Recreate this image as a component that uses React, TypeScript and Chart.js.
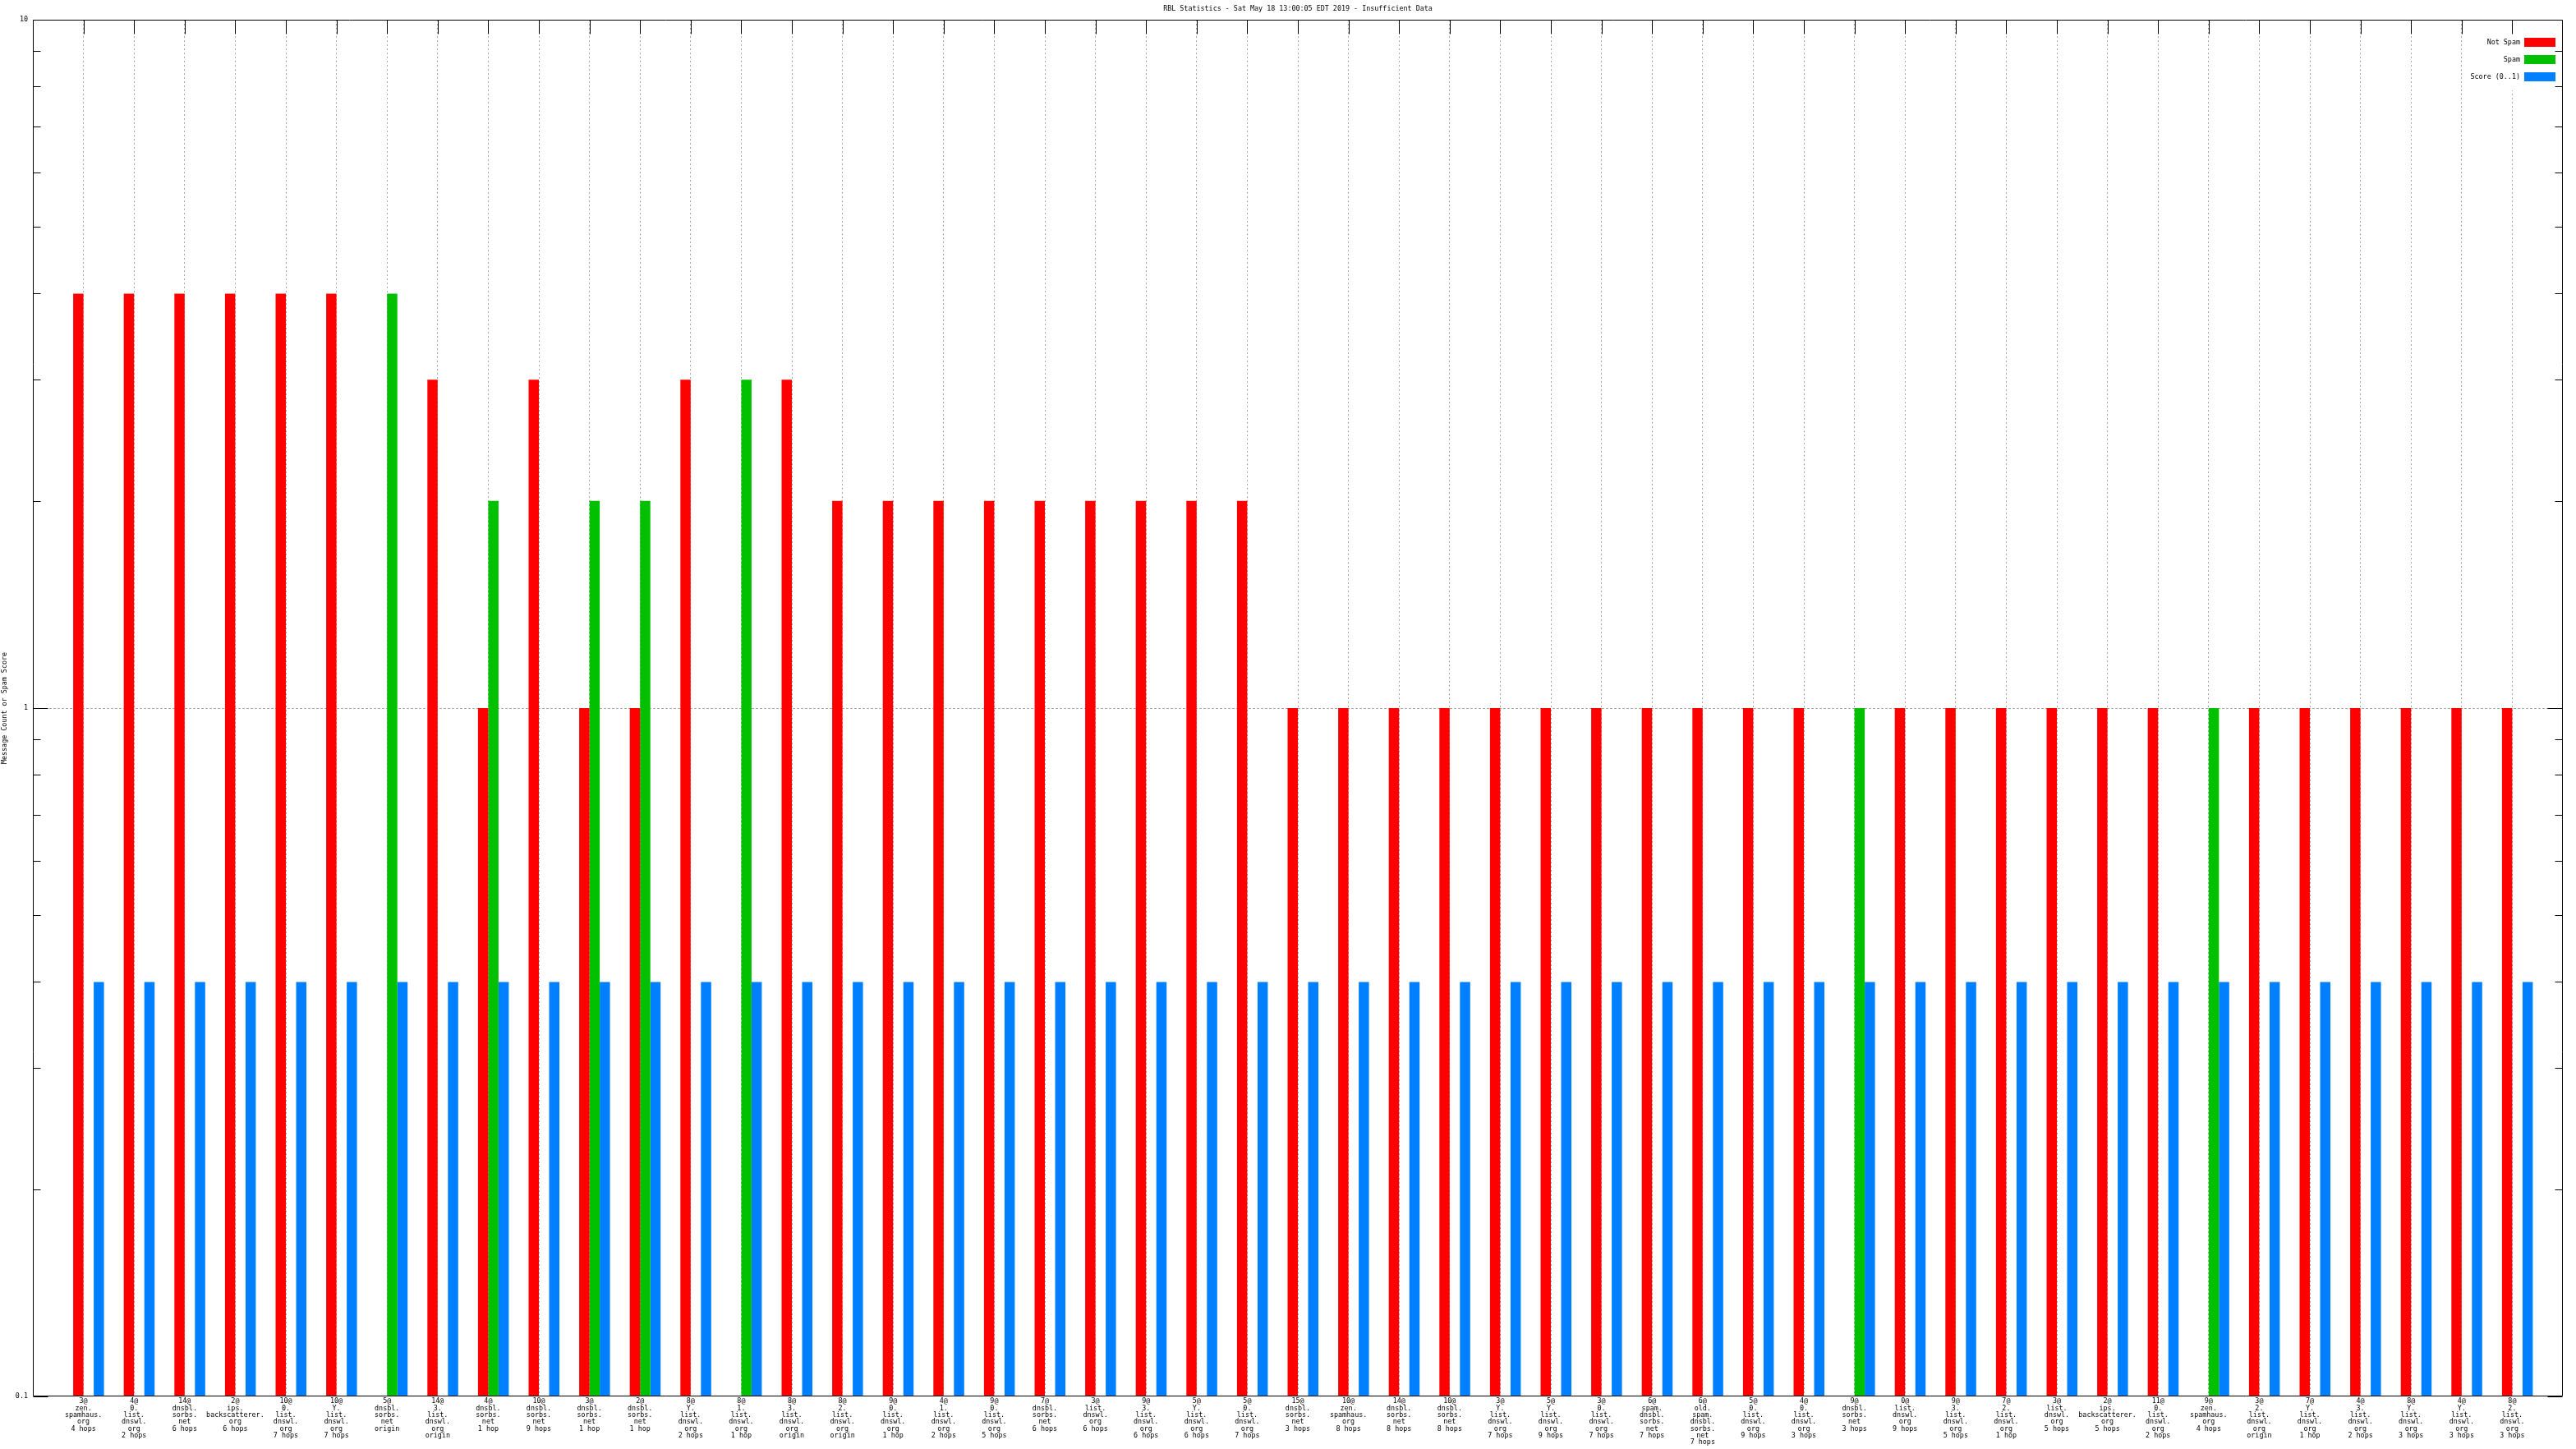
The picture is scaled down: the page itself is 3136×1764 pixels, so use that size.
import React, { useEffect, useRef } from 'react';
import { Chart, registerables } from 'chart.js';

Chart.register(...registerables);

const TITLE = 'RBL Statistics - Sat May 18 13:00:05 EDT 2019 - Insufficient Data';
const Y_TITLE = 'Message Count or Spam Score';
const FONT = "'DejaVu Sans Mono', 'Liberation Mono', monospace";
const FS = 8.4;

const seriesNames = ['Not Spam', 'Spam', 'Score (0..1)'];
const seriesColors = ['#ff0000', '#00c000', '#0080ff'];

const groupLabels = [
  '3@|zen.|spamhaus.|org|4 hops',
  '4@|0.|list.|dnswl.|org|2 hops',
  '14@|dnsbl.|sorbs.|net|6 hops',
  '2@|ips.|backscatterer.|org|6 hops',
  '10@|0.|list.|dnswl.|org|7 hops',
  '10@|Y.|list.|dnswl.|org|7 hops',
  '5@|dnsbl.|sorbs.|net|origin',
  '14@|3.|list.|dnswl.|org|origin',
  '4@|dnsbl.|sorbs.|net|1 hop',
  '10@|dnsbl.|sorbs.|net|9 hops',
  '3@|dnsbl.|sorbs.|net|1 hop',
  '2@|dnsbl.|sorbs.|net|1 hop',
  '8@|Y.|list.|dnswl.|org|2 hops',
  '8@|1.|list.|dnswl.|org|1 hop',
  '8@|3.|list.|dnswl.|org|origin',
  '8@|2.|list.|dnswl.|org|origin',
  '9@|0.|list.|dnswl.|org|1 hop',
  '4@|1.|list.|dnswl.|org|2 hops',
  '9@|0.|list.|dnswl.|org|5 hops',
  '7@|dnsbl.|sorbs.|net|6 hops',
  '3@|list.|dnswl.|org|6 hops',
  '9@|3.|list.|dnswl.|org|6 hops',
  '5@|Y.|list.|dnswl.|org|6 hops',
  '5@|0.|list.|dnswl.|org|7 hops',
  '15@|dnsbl.|sorbs.|net|3 hops',
  '10@|zen.|spamhaus.|org|8 hops',
  '14@|dnsbl.|sorbs.|net|8 hops',
  '10@|dnsbl.|sorbs.|net|8 hops',
  '3@|Y.|list.|dnswl.|org|7 hops',
  '5@|Y.|list.|dnswl.|org|9 hops',
  '3@|0.|list.|dnswl.|org|7 hops',
  '6@|spam.|dnsbl.|sorbs.|net|7 hops',
  '6@|old.|spam.|dnsbl.|sorbs.|net|7 hops',
  '5@|0.|list.|dnswl.|org|9 hops',
  '4@|0.|list.|dnswl.|org|3 hops',
  '9@|dnsbl.|sorbs.|net|3 hops',
  '0@|list.|dnswl.|org|9 hops',
  '9@|3.|list.|dnswl.|org|5 hops',
  '7@|2.|list.|dnswl.|org|1 hop',
  '3@|list.|dnswl.|org|5 hops',
  '2@|ips.|backscatterer.|org|5 hops',
  '11@|0.|list.|dnswl.|org|2 hops',
  '9@|zen.|spamhaus.|org|4 hops',
  '3@|2.|list.|dnswl.|org|origin',
  '7@|Y.|list.|dnswl.|org|1 hop',
  '4@|3.|list.|dnswl.|org|2 hops',
  '8@|Y.|list.|dnswl.|org|3 hops',
  '4@|Y.|list.|dnswl.|org|3 hops',
  '8@|2.|list.|dnswl.|org|3 hops',
];

const notSpam = [
  4, 4, 4, 4, 4, 4, null, 3, 1, 3,
  1, 1, 3, null, 3, 2, 2, 2, 2, 2,
  2, 2, 2, 2, 1, 1, 1, 1, 1, 1,
  1, 1, 1, 1, 1, null, 1, 1, 1, 1,
  1, 1, null, 1, 1, 1, 1, 1, 1,
];

const spam = [
  null, null, null, null, null, null, 4, null, 2, null,
  2, 2, null, 3, null, null, null, null, null, null,
  null, null, null, null, null, null, null, null, null, null,
  null, null, null, null, null, 1, null, null, null, null,
  null, null, 1, null, null, null, null, null, null,
];

const score = [
  0.4, 0.4, 0.4, 0.4, 0.4, 0.4, 0.4, 0.4, 0.4, 0.4,
  0.4, 0.4, 0.4, 0.4, 0.4, 0.4, 0.4, 0.4, 0.4, 0.4,
  0.4, 0.4, 0.4, 0.4, 0.4, 0.4, 0.4, 0.4, 0.4, 0.4,
  0.4, 0.4, 0.4, 0.4, 0.4, 0.4, 0.4, 0.4, 0.4, 0.4,
  0.4, 0.4, 0.4, 0.4, 0.4, 0.4, 0.4, 0.4, 0.4,
];

const yMajorValues = [0.1, 1, 10];
const yMajorLabels = ['0.1', '1', '10'];
const yMinorValues = [0.2, 0.3, 0.4, 0.5, 0.6, 0.7, 0.8, 0.9, 2, 3, 4, 5, 6, 7, 8, 9];

const near = (a: number, b: number) => Math.abs(a - b) < 1e-9;

const legendPlugin = {
  id: 'gnuLegend',
  afterDraw(chart: any) {
    const { ctx, chartArea: a } = chart;
    const rows = chart.data.datasets.filter((d: any) => d.label);
    ctx.save();
    ctx.fillStyle = '#ffffff';
    ctx.fillRect(a.right - 117, a.top + 18, 112, 68);
    ctx.font = `${FS}px ${FONT}`;
    ctx.textAlign = 'right';
    ctx.textBaseline = 'middle';
    rows.forEach((d: any, i: number) => {
      const cy = a.top + 27.5 + i * 21;
      ctx.fillStyle = '#000';
      ctx.fillText(d.label, a.right - 52, cy);
      ctx.fillStyle = d.backgroundColor;
      ctx.fillRect(a.right - 47, cy - 5.5, 38, 11);
    });
    ctx.restore();
  },
};

const framePlugin = {
  id: 'gnuFrame',
  afterDraw(chart: any) {
    const { ctx, chartArea: a, scales } = chart;
    const xs = scales.x;
    const ys = scales.y;
    const L = a.left + 0.5;
    const R = a.right - 0.5;
    const T = a.top + 0.5;
    const B = a.bottom - 0.5;
    ctx.save();
    ctx.strokeStyle = '#000';
    ctx.lineWidth = 1;
    ctx.setLineDash([]);
    ctx.beginPath();
    ctx.rect(L, T, R - L, B - T);
    for (let i = 1; i <= groupLabels.length; i++) {
      const px = Math.round(xs.getPixelForValue(i)) + 0.5;
      ctx.moveTo(px, T);
      ctx.lineTo(px, T + 17);
    }
    const yTicks = [
      ...yMajorValues.map((v) => ({ v, len: 18 })),
      ...yMinorValues.map((v) => ({ v, len: 9 })),
    ];
    yTicks.forEach(({ v, len }) => {
      const py = Math.round(ys.getPixelForValue(v)) + 0.5;
      ctx.moveTo(L, py);
      ctx.lineTo(L + len, py);
      ctx.moveTo(R, py);
      ctx.lineTo(R - len, py);
    });
    ctx.stroke();
    ctx.restore();
  },
};

export default function App() {
  const canvasRef = useRef<HTMLCanvasElement | null>(null);

  useEffect(() => {
    const canvas = canvasRef.current;
    if (!canvas) return;
    const pad = (arr: (number | null)[]) => [null, ...arr, null];
    const labels = ['', ...groupLabels.map((s) => s.split('|')), ''];
    const lastIndex = labels.length - 1;

    const chart = new Chart(canvas, {
      type: 'bar',
      data: {
        labels,
        datasets: [
          { label: '', data: pad(groupLabels.map(() => null)), backgroundColor: 'rgba(0,0,0,0)' },
          { label: seriesNames[0], data: pad(notSpam), backgroundColor: seriesColors[0] },
          { label: seriesNames[1], data: pad(spam), backgroundColor: seriesColors[1] },
          { label: seriesNames[2], data: pad(score), backgroundColor: seriesColors[2] },
        ] as any,
      },
      options: {
        animation: false,
        responsive: false,
        devicePixelRatio: 1,
        events: [],
        datasets: {
          bar: {
            categoryPercentage: 50 / 61.6,
            barPercentage: 1,
            borderWidth: 0,
          },
        } as any,
        layout: { padding: { left: 0, right: 16, top: 0, bottom: 0 } },
        plugins: {
          legend: { display: false },
          tooltip: { enabled: false },
          title: {
            display: true,
            text: TITLE,
            color: '#000',
            fullSize: false,
            font: { family: FONT, size: FS, lineHeight: 1, weight: 'normal' },
            padding: { top: 6.8, bottom: 8.8 },
          },
        },
        scales: {
          x: {
            type: 'category',
            offset: false,
            grid: {
              offset: false,
              drawTicks: false,
              lineWidth: 1,
              color: (c: any) => (c.index > 0 && c.index < lastIndex ? '#a8a8a8' : 'rgba(0,0,0,0)'),
            },
            border: { display: false, dash: [2, 3] },
            ticks: {
              autoSkip: false,
              maxRotation: 0,
              minRotation: 0,
              padding: 2,
              color: '#000',
              font: { family: FONT, size: FS, lineHeight: 8.33 / FS },
            },
            afterFit: (s: any) => {
              s.height = 64;
            },
          } as any,
          y: {
            type: 'logarithmic',
            min: 0.1,
            max: 10,
            afterBuildTicks: (s: any) => {
              s.ticks = [...yMajorValues, ...yMinorValues]
                .sort((p, q) => p - q)
                .map((v) => ({ value: v }));
            },
            grid: {
              drawTicks: false,
              lineWidth: 1,
              color: (c: any) => (c.tick && near(c.tick.value, 1) ? '#a8a8a8' : 'rgba(0,0,0,0)'),
            },
            border: { display: false, dash: [3, 2] },
            ticks: {
              autoSkip: false,
              padding: 6,
              color: '#000',
              font: { family: FONT, size: FS },
              callback: (v: any) => {
                const i = yMajorValues.findIndex((m) => near(m, Number(v)));
                return i >= 0 ? yMajorLabels[i] : '';
              },
            },
            title: {
              display: true,
              text: Y_TITLE,
              color: '#000',
              font: { family: FONT, size: FS, lineHeight: 1 },
              padding: { top: 2, bottom: 0 },
            },
            afterFit: (s: any) => {
              s.width = 40;
            },
          } as any,
        },
      },
      plugins: [legendPlugin, framePlugin],
    });

    return () => chart.destroy();
  }, []);

  return (
    <div style={{ position: 'fixed', left: 0, top: 0, width: 3136, height: 1764, background: '#fff' }}>
      <canvas ref={canvasRef} width={3136} height={1764} style={{ width: 3136, height: 1764, display: 'block' }} />
    </div>
  );
}
